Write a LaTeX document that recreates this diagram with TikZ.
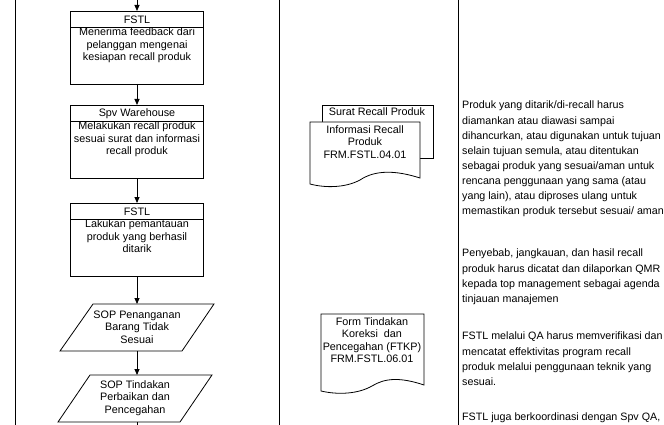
\documentclass[tikz,border=0pt]{standalone}
\usepackage{fontspec}
\setmainfont{Liberation Sans}
\usetikzlibrary{arrows.meta}
\begin{document}
\begin{tikzpicture}[x=1pt,y=-1pt,
  ln/.style={line width=0.8pt},
  arr/.style={ln,-{Triangle[length=6pt,width=5pt]}},
  txt/.style={font=\fontsize{10.8}{12.5}\selectfont,align=center,inner sep=0pt},
  rtxt/.style={font=\fontsize{10.7}{15.1}\selectfont,align=left,anchor=north west,inner sep=0pt}]
\useasboundingbox (0,0) rectangle (664,425);
\draw[ln] (15,0) -- (15,425);
\draw[ln] (279,0) -- (279,425);
\draw[ln] (458,0) -- (458,425);
% process boxes
\foreach \n/\y/\h/\t in {b1/11/FSTL/{Menerima feedback dari\\pelanggan mengenai\\kesiapan recall produk},
  b2/105/Spv Warehouse/{Melakukan recall produk\\sesuai surat dan informasi\\recall produk},
  b3/203/FSTL/{Lakukan pemantauan\\produk yang berhasil\\ditarik}}{
  \draw[ln] (70,\y) rectangle (203,\y+73);
  \draw[ln] (70,\y+16) -- (203,\y+16);
  \node[txt] at (137,\y+8.5) {\h};
  \node[txt,anchor=north] at (137,\y+16.5) {\t};
  \coordinate (\n t) at (137,\y);
  \coordinate (\n b) at (137,\y+73);
}
\coordinate (top) at (137,0);
% parallelograms
\draw[ln] (93,304) -- (214,304) -- (182,351) -- (60,351) -- cycle;
\node[txt] (p1) at (137,327) {SOP Penanganan\\Barang Tidak\\Sesuai};
\coordinate (p1t) at (137,304); \coordinate (p1b) at (137,351);
\draw[ln] (90,375) -- (212,375) -- (180,422) -- (58,422) -- cycle;
\node[txt] (p2) at (135,398) {SOP Tindakan\\Perbaikan dan\\Pencegahan};
\coordinate (p2t) at (137,375);
\draw[arr] (top) -- (b1t);
\draw[arr] (b1b) -- (b2t);
\draw[arr] (b2b) -- (b3t);
\draw[arr] (b3b) -- (p1t);
\draw[arr] (p1b) -- (p2t);
\draw[ln] (137,422) -- (137,425);
% documents
\draw[ln] (322,105) rectangle (433,158);
\node[txt] at (377,112) {Surat Recall Produk};
\draw[ln,fill=white] (310,122) -- (420,122) -- (420,178) .. controls (395,170) and (375,170) .. (360,180) .. controls (345,188) and (325,188) .. (310,184) -- cycle;
\node[txt,anchor=north] at (365,125) {Informasi Recall\\Produk\\FRM.FSTL.04.01};
\draw[ln] (321,314) -- (424,314) -- (424,385) .. controls (400,377) and (385,378) .. (372,386) .. controls (358,394) and (338,395) .. (321,391) -- cycle;
\node[txt,anchor=north] at (372,317) {Form Tindakan\\Koreksi\ \ dan\\Pencegahan (FTKP)\\FRM.FSTL.06.01};
% right texts
\node[rtxt] at (462,101) {Produk yang ditarik/di-recall harus\\diamankan atau diawasi sampai\\dihancurkan, atau digunakan untuk tujuan\\selain tujuan semula, atau ditentukan\\sebagai produk yang sesuai/aman untuk\\rencana penggunaan yang sama (atau\\yang lain), atau diproses ulang untuk\\memastikan produk tersebut sesuai/ aman};
\node[rtxt] at (462,249) {Penyebab, jangkauan, dan hasil recall\\produk harus dicatat dan dilaporkan QMR\\kepada top management sebagai agenda\\tinjauan manajemen};
\node[rtxt] at (462,332) {FSTL melalui QA harus memverifikasi dan\\mencatat effektivitas program recall\\produk melalui penggunaan teknik yang\\sesuai.};
\node[rtxt] at (462,413) {FSTL juga berkoordinasi dengan Spv QA,};
\end{tikzpicture}
\end{document}
